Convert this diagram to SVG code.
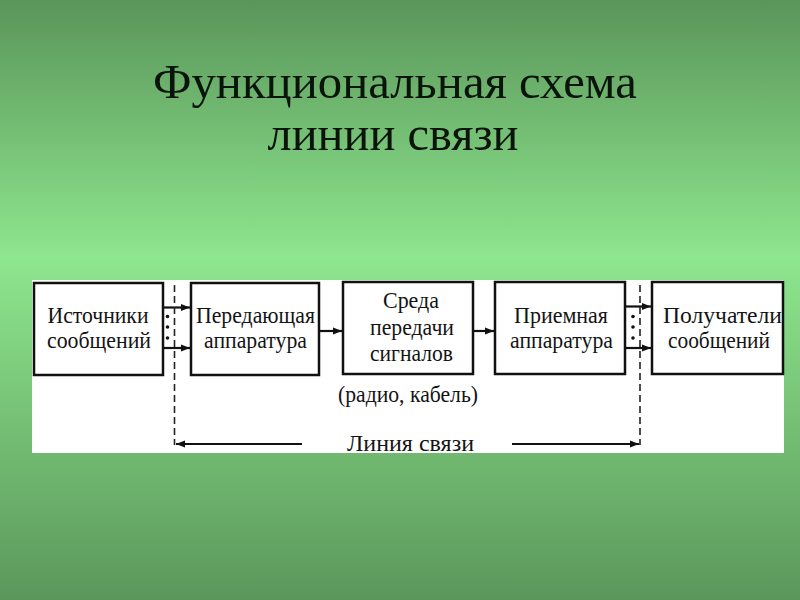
<svg xmlns="http://www.w3.org/2000/svg" width="800" height="600" viewBox="0 0 800 600">
  <defs>
    <linearGradient id="bg" x1="0" y1="0" x2="0" y2="1">
      <stop offset="0" stop-color="#5a955a"/>
      <stop offset="0.43" stop-color="#8ee68e"/>
      <stop offset="1" stop-color="#5b975b"/>
    </linearGradient>
    <marker id="ah" markerUnits="userSpaceOnUse" markerWidth="10" markerHeight="8" refX="9" refY="4" orient="auto">
      <path d="M0,0.5 L9,4 L0,7.5 Z" fill="#111"/>
    </marker>
  </defs>
  <style>
    .box { fill: #ffffff; stroke: #111; stroke-width: 2.5; }
    .t { font-family: "Liberation Serif", "Times New Roman", serif; font-size: 24px; fill: #141414; text-anchor: middle; }
    .title { font-family: "Liberation Serif", "Times New Roman", serif; font-size: 49px; fill: #0a140a; text-anchor: middle; }
    .arr { stroke: #111; stroke-width: 2.2; fill: none; marker-end: url(#ah); }
    .dash { stroke: #222; stroke-width: 1.6; stroke-dasharray: 7 4; fill: none; }
    .dot { fill: #111; }
  </style>

  <rect x="0" y="0" width="800" height="600" fill="url(#bg)"/>

  <g id="title">
    <text class="title" x="395" y="97.5" textLength="484" lengthAdjust="spacingAndGlyphs">Функциональная схема</text>
    <text class="title" x="393" y="150" textLength="251" lengthAdjust="spacingAndGlyphs">линии связи</text>
  </g>

  <rect id="panel" x="32" y="280" width="752" height="173" fill="#ffffff"/>

  <g id="node-sources">
    <rect class="box" x="34" y="283" width="129" height="92"/>
    <text class="t" x="98" y="323" textLength="101" lengthAdjust="spacingAndGlyphs">Источники</text>
    <text class="t" x="99" y="348" textLength="104" lengthAdjust="spacingAndGlyphs">сообщений</text>
  </g>

  <g id="node-transmitter">
    <rect class="box" x="191" y="283" width="128" height="92"/>
    <text class="t" x="255.5" y="323" textLength="119" lengthAdjust="spacingAndGlyphs">Передающая</text>
    <text class="t" x="255.5" y="348" textLength="103" lengthAdjust="spacingAndGlyphs">аппаратура</text>
  </g>

  <g id="node-medium">
    <rect class="box" x="343" y="282" width="130" height="92"/>
    <text class="t" x="411" y="308" textLength="56" lengthAdjust="spacingAndGlyphs">Среда</text>
    <text class="t" x="412" y="335" textLength="84" lengthAdjust="spacingAndGlyphs">передачи</text>
    <text class="t" x="411.5" y="361" textLength="83" lengthAdjust="spacingAndGlyphs">сигналов</text>
  </g>

  <g id="node-receiver">
    <rect class="box" x="495" y="282" width="130" height="92"/>
    <text class="t" x="561" y="323" textLength="94" lengthAdjust="spacingAndGlyphs">Приемная</text>
    <text class="t" x="561.5" y="348" textLength="103" lengthAdjust="spacingAndGlyphs">аппаратура</text>
  </g>

  <g id="node-recipients">
    <rect class="box" x="652" y="282" width="131" height="92"/>
    <text class="t" x="722.5" y="323" textLength="119" lengthAdjust="spacingAndGlyphs">Получатели</text>
    <text class="t" x="719" y="348" textLength="102" lengthAdjust="spacingAndGlyphs">сообщений</text>
  </g>

  <g id="labels">
    <text class="t" x="408" y="402" textLength="140" lengthAdjust="spacingAndGlyphs">(радио, кабель)</text>
    <text class="t" x="410.5" y="451" textLength="127" lengthAdjust="spacingAndGlyphs">Линия связи</text>
  </g>

  <g id="connectors">
    <line class="arr" x1="163" y1="307.5" x2="190" y2="307.5"/>
    <line class="arr" x1="163" y1="348" x2="190" y2="348"/>
    <line class="arr" x1="319" y1="331" x2="342" y2="331"/>
    <line class="arr" x1="473" y1="331" x2="494" y2="331"/>
    <line class="arr" x1="625" y1="306.5" x2="651" y2="306.5"/>
    <line class="arr" x1="625" y1="348" x2="651" y2="348"/>
    <line class="dash" x1="174.5" y1="285" x2="174.5" y2="445"/>
    <line class="dash" x1="640" y1="285" x2="640" y2="445"/>
    <line class="arr" x1="302" y1="444" x2="176" y2="444"/>
    <line class="arr" x1="512" y1="444" x2="639" y2="444"/>
    <circle class="dot" cx="167.5" cy="316.5" r="1.8"/>
    <circle class="dot" cx="167.5" cy="327" r="1.8"/>
    <circle class="dot" cx="167.5" cy="338" r="1.8"/>
    <circle class="dot" cx="633" cy="316.5" r="1.8"/>
    <circle class="dot" cx="633" cy="327" r="1.8"/>
    <circle class="dot" cx="633" cy="338" r="1.8"/>
  </g>
</svg>
